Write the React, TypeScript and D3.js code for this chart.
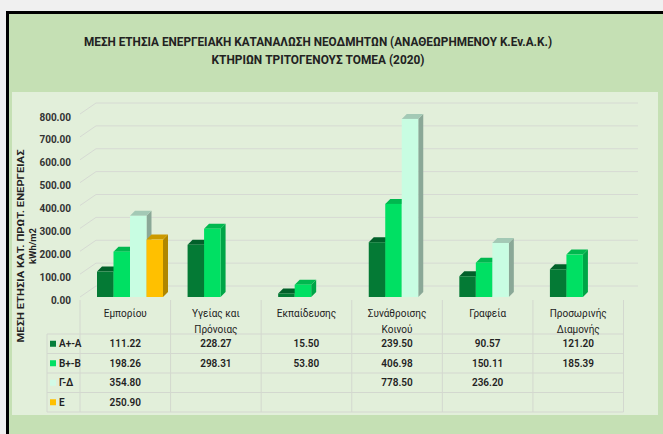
import React from "react";
import * as d3 from "d3";

const titleLines = [
  "ΜΕΣΗ ΕΤΗΣΙΑ ΕΝΕΡΓΕΙΑΚΗ ΚΑΤΑΝΑΛΩΣΗ ΝΕΟΔΜΗΤΩΝ (ΑΝΑΘΕΩΡΗΜΕΝΟΥ Κ.Εν.Α.Κ.)",
  "ΚΤΗΡΙΩΝ ΤΡΙΤΟΓΕΝΟΥΣ ΤΟΜΕΑ (2020)",
];
const yTitleLines = ["ΜΕΣΗ ΕΤΗΣΙΑ ΚΑΤ. ΠΡΩΤ. ΕΝΕΡΓΕΙΑΣ", "kWh/m2"];

const categories = ["Εμπορίου", "Υγείας και Πρόνοιας", "Εκπαίδευσης", "Συνάθροισης Κοινού", "Γραφεία", "Προσωρινής Διαμονής"];
const categoryLines = [["Εμπορίου"], ["Υγείας και", "Πρόνοιας"], ["Εκπαίδευσης"], ["Συνάθροισης", "Κοινού"], ["Γραφεία"], ["Προσωρινής", "Διαμονής"]];

const seriesNames = ["Α+-Α", "Β+-Β", "Γ-Δ", "Ε"];
const seriesAA = [111.22, 228.27, 15.5, 239.5, 90.57, 121.2];
const seriesBB = [198.26, 298.31, 53.8, 406.98, 150.11, 185.39];
const seriesGD = [354.8, null, null, 778.5, 236.2, null];
const seriesE = [250.9, null, null, null, null, null];
const seriesValues: (number | null)[][] = [seriesAA, seriesBB, seriesGD, seriesE];

const yTicks = [0, 100, 200, 300, 400, 500, 600, 700, 800];

const front = ["#047a35", "#00e063", "#c8fde2", "#ffc000"];
const topC = ["#02602a", "#00b84f", "#a3c9b5", "#cc9a00"];
const sideC = ["#02572a", "#00a547", "#8aa897", "#b08600"];
const legendC = ["#067d3a", "#00e063", "#d2fbe7", "#ffc000"];

export default function App() {
  const W = 663, H = 434;
  const x = d3.scaleBand<string>().domain(categories).range([80, 623.5]).paddingInner(0).paddingOuter(0);
  const slot = d3.scaleBand<string>().domain(seriesNames).range([17, 83]);
  const y = d3.scaleLinear().domain([0, 800]).range([297, 114]);
  const dx = 5, dy = -5;
  const wx = 16, wy = -11;
  const font = "Roboto, 'Open Sans', sans-serif";
  const rows = [334, 353.5, 373, 392.5, 412];
  const tableTop = 300;

  return (
    <svg width={W} height={H} style={{ position: "absolute", left: 0, top: 0 }} fontFamily={font}>
      <rect x={0} y={0} width={W} height={H} fill="#f0f0f0" />
      <rect x={7.5} y={12.5} width={W + 20} height={H + 20} fill="#c5e0b4" stroke="#000" strokeWidth={3} />
      <rect x={12} y={92} width={646} height={323} fill="#e2efda" />

      {titleLines.map((t, i) => (
        <text key={i} x={318} y={46 + i * 18} textAnchor="middle" fontSize={12} fontWeight={700} fill="#222"
          textLength={i === 0 ? 468 : 213} lengthAdjust="spacingAndGlyphs">{t}</text>
      ))}

      {/* gridlines */}
      {yTicks.map((v) => (
        <polyline key={v} points={`80,${y(v)} ${80 + wx},${y(v) + wy} 638,${y(v) + wy}`} fill="none" stroke="#d6dad3" strokeWidth={1} />
      ))}

      {/* tick labels */}
      {yTicks.map((v) => (
        <text key={v} x={71} y={y(v) + 3} dy="0.35em" textAnchor="end" fontSize={10} fontWeight={700} fill="#333">{v.toFixed(2)}</text>
      ))}

      {/* y axis title */}
      {yTitleLines.map((t, i) => (
        <text key={i} transform={`translate(${21 + i * 12},246) rotate(-90)`} textAnchor="middle" dy="0.35em" fontSize={9.5} fontWeight={700} fill="#222"
          textLength={i === 0 ? 193 : undefined} lengthAdjust="spacingAndGlyphs">{t}</text>
      ))}

      {/* bars */}
      {categories.map((c, ci) =>
        seriesNames.map((s, si) => {
          const v = seriesValues[si][ci];
          if (v == null) return null;
          const x0 = (x(c) as number) + (slot(s) as number);
          const bw = slot.bandwidth();
          const y0 = y(0), y1 = y(v);
          return (
            <g key={c + s}>
              <polygon points={`${x0 + bw},${y1} ${x0 + bw + dx},${y1 + dy} ${x0 + bw + dx},${y0 + dy} ${x0 + bw},${y0}`} fill={sideC[si]} />
              <polygon points={`${x0},${y1} ${x0 + dx},${y1 + dy} ${x0 + bw + dx},${y1 + dy} ${x0 + bw},${y1}`} fill={topC[si]} />
              <rect x={x0} y={y1} width={bw} height={y0 - y1} fill={front[si]} />
            </g>
          );
        })
      )}

      {/* table */}
      {categories.map((c, ci) => (
        <line key={"v" + c} x1={x(c) as number} x2={x(c) as number} y1={tableTop} y2={412} stroke="#d3d8cf" strokeWidth={1} />
      ))}
      <line x1={623.5} x2={623.5} y1={tableTop} y2={412} stroke="#d3d8cf" strokeWidth={1} />
      <line x1={47} x2={47} y1={334} y2={412} stroke="#d3d8cf" strokeWidth={1} />
      {rows.map((r) => (
        <line key={"h" + r} x1={47} x2={623.5} y1={r} y2={r} stroke="#d3d8cf" strokeWidth={1.2} />
      ))}

      {categories.map((c, ci) => (
        <text key={"cl" + c} x={(x(c) as number) + x.bandwidth() / 2} y={313} dy="0.35em" textAnchor="middle" fontSize={10} fill="#222">
          {categoryLines[ci].map((l, li) => (
            <tspan key={li} x={(x(c) as number) + x.bandwidth() / 2} dy={li === 0 ? "0.35em" : 16}>{l}</tspan>
          ))}
        </text>
      ))}

      {seriesNames.map((s, si) => {
        const cy = (rows[si] + rows[si + 1]) / 2;
        return (
          <g key={"row" + s}>
            <rect x={50} y={cy - 3} width={6} height={6} fill={legendC[si]} />
            <text x={59} y={cy} dy="0.35em" fontSize={10} fontWeight={600} fill="#222">{s}</text>
            {categories.map((c, ci) => {
              const v = seriesValues[si][ci];
              if (v == null) return null;
              return (
                <text key={c} x={(x(c) as number) + x.bandwidth() / 2} y={cy} dy="0.35em" textAnchor="middle" fontSize={10} fontWeight={600} fill="#222">{v.toFixed(2)}</text>
              );
            })}
          </g>
        );
      })}
    </svg>
  );
}
